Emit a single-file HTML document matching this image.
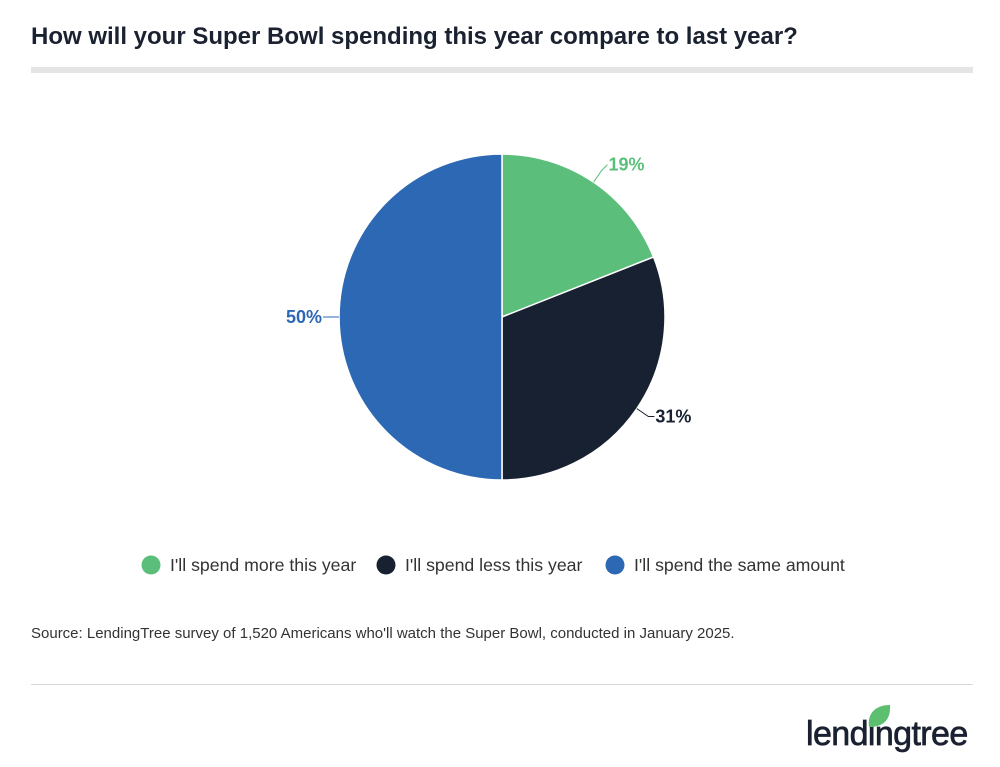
<!DOCTYPE html>
<html><head><meta charset="utf-8"><style>
body{margin:0;width:1000px;height:767px;background:#fff;font-family:"Liberation Sans",sans-serif;overflow:hidden;position:relative}
.t{position:absolute;left:31px;top:24px;font-size:24px;line-height:26px;font-weight:bold;color:#1a2130;white-space:nowrap}
.bar{position:absolute;left:31px;top:67px;width:942px;height:6px;background:#e4e4e4}
.src{position:absolute;left:31px;top:625px;font-size:15px;color:#333;white-space:nowrap}
.hr{position:absolute;left:31px;top:684px;width:942px;height:1px;background:#d8d8d8}
.logo{position:absolute;left:806px;top:714px;font-size:34px;line-height:40px;color:#1a2130;letter-spacing:-0.6px;-webkit-text-stroke:0.7px #1a2130;white-space:nowrap}
</style></head><body>
<div class="t">How will your Super Bowl spending this year compare to last year?</div>
<div class="bar"></div>
<svg id="c" width="1000" height="767" style="position:absolute;left:0;top:0"></svg>
<div class="src">Source: LendingTree survey of 1,520 Americans who'll watch the Super Bowl, conducted in January 2025.</div>
<div class="hr"></div>
<div class="logo">lendingtree</div>
<svg width="26" height="24" style="position:absolute;left:866px;top:704px"><path d="M3 23 C1 9 10 1 24 1 C25 15 18 23 3 23Z" fill="#5cbf70"/></svg>
<script>
const categories=["I'll spend more this year","I'll spend less this year","I'll spend the same amount"];
const values=[19,31,50];
const labels=["19%","31%","50%"];
const colors=["#5bbf7b","#172131","#2d68b4"];
const svg=document.getElementById('c');const NS="http://www.w3.org/2000/svg";
const cx=502,cy=317,r=163;const total=values.reduce((a,b)=>a+b,0);
function pt(f,rr){const a=f*2*Math.PI;return[cx+rr*Math.sin(a),cy-rr*Math.cos(a)];}
let acc=0;
values.forEach((v,i)=>{
 const f0=acc/total,f1=(acc+v)/total;acc+=v;
 const p0=pt(f0,r),p1=pt(f1,r);const large=(f1-f0)>0.5?1:0;
 const p=document.createElementNS(NS,'path');
 p.setAttribute('d',`M${cx},${cy}L${p0[0]},${p0[1]}A${r},${r} 0 ${large} 1 ${p1[0]},${p1[1]}Z`);
 p.setAttribute('fill',colors[i]);p.setAttribute('stroke','#fff');p.setAttribute('stroke-width','1.5');
 
 
 svg.appendChild(p);
 const fm=(f0+f1)/2;const e=pt(fm,r),e2=pt(fm,r+14);const right=Math.sin(fm*2*Math.PI)>=0;
 const e3=[e2[0]+(right?6:-2),e2[1]+(Math.cos(fm*2*Math.PI)>0.3?-6:0)];
 const l=document.createElementNS(NS,'polyline');
 l.setAttribute('points',`${e[0]},${e[1]} ${e2[0]},${e2[1]} ${e3[0]},${e3[1]}`);
 l.setAttribute('fill','none');l.setAttribute('stroke',colors[i]);l.setAttribute('stroke-width','1');
 
 
 svg.appendChild(l);
 const t=document.createElementNS(NS,'text');
 t.setAttribute('x',e3[0]+(right?1:-1));t.setAttribute('y',e3[1]+6);
 t.setAttribute('text-anchor',right?'start':'end');t.setAttribute('font-size','18');t.setAttribute('font-weight','bold');
 t.setAttribute('fill',colors[i]);t.setAttribute('font-family','Liberation Sans, sans-serif');
 t.textContent=labels[i];
 
 
 svg.appendChild(t);
});
const lx=[151,386,615];
categories.forEach((c,i)=>{
 const g=document.createElementNS(NS,'g');
 
 
 const ci=document.createElementNS(NS,'circle');ci.setAttribute('cx',lx[i]);ci.setAttribute('cy',565);ci.setAttribute('r',9.5);ci.setAttribute('fill',colors[i]);
 const t=document.createElementNS(NS,'text');t.setAttribute('x',lx[i]+19);t.setAttribute('y',571);t.setAttribute('font-size','17.7');t.setAttribute('fill','#333');t.setAttribute('font-family','Liberation Sans, sans-serif');t.textContent=c;
 g.appendChild(ci);g.appendChild(t);svg.appendChild(g);
});
</script>
</body></html>
